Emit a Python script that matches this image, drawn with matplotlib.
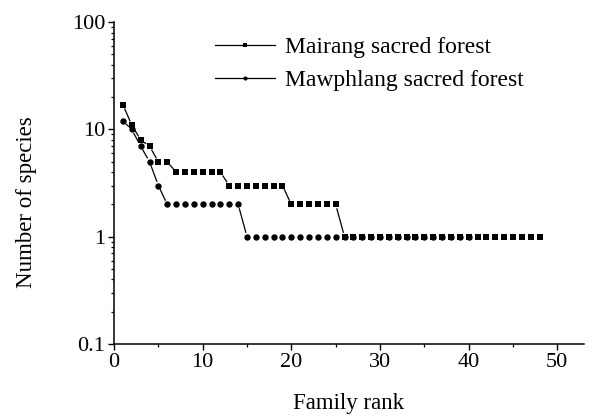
import matplotlib
matplotlib.use("Agg")
import matplotlib.pyplot as plt
import numpy as np
from matplotlib.lines import Line2D
from matplotlib.ticker import LogLocator, FixedLocator, FuncFormatter

# species per family, ordered by family rank
mairang = [17, 11, 8, 7, 5, 5] + [4] * 6 + [3] * 7 + [2] * 6 + [1] * 23
mawphlang = [12, 10, 7, 5, 3] + [2] * 9 + [1] * 26
series_names = ["Mairang sacred forest", "Mawphlang sacred forest"]

plt.rcParams["font.family"] = ["Liberation Serif", "DejaVu Serif"]

fig = plt.figure(figsize=(5.94, 4.19), dpi=100)
ax = fig.add_axes([0.192, 0.179, 0.791, 0.768])

ax.set_yscale("log")
ax.set_xlim(0, 53)
ax.set_ylim(0.1, 100)

for s in ["top", "right"]:
    ax.spines[s].set_visible(False)
for s in ["left", "bottom"]:
    ax.spines[s].set_linewidth(1.1)

ax.xaxis.set_major_locator(FixedLocator([0, 10, 20, 30, 40, 50]))
ax.xaxis.set_minor_locator(FixedLocator([5, 15, 25, 35, 45]))
ax.yaxis.set_major_locator(LogLocator(base=10, numticks=10))
ax.yaxis.set_minor_locator(LogLocator(base=10, subs=np.arange(2, 10), numticks=20))
ax.yaxis.set_major_formatter(FuncFormatter(lambda v, p: f"{v:g}"))
ax.tick_params(which="major", direction="out", length=4.5, width=1.0, labelsize=16, pad=2)
ax.tick_params(which="minor", direction="out", length=2.5, width=0.9)

ax.set_xlabel("Family rank", fontsize=16.5, labelpad=15)
ax.set_ylabel("Number of species", fontsize=16.5)
ax.yaxis.set_label_coords(-0.165, 0.44)

fig.canvas.draw()


def draw_series(values, marker, ms):
    x = np.arange(1, len(values) + 1)
    y = np.array(values, dtype=float)
    pts = ax.transData.transform(np.column_stack([x, y]))
    inv = ax.transData.inverted()
    gap = 4.6  # px gap between line and symbol
    for p0, p1 in zip(pts[:-1], pts[1:]):
        d = p1 - p0
        L = np.hypot(*d)
        if L <= 2 * gap:
            continue
        a = inv.transform(p0 + d / L * gap)
        b = inv.transform(p1 - d / L * gap)
        ax.plot([a[0], b[0]], [a[1], b[1]], color="black", lw=0.9)
    ax.plot(x, y, linestyle="none", marker=marker, ms=ms, color="black",
            markeredgewidth=0)


draw_series(mairang, "s", 4.0)
draw_series(mawphlang, "o", 4.6)

handles = [
    Line2D([], [], color="black", lw=0.9, marker="s", ms=2.5, markeredgewidth=0),
    Line2D([], [], color="black", lw=0.9, marker="o", ms=3.0, markeredgewidth=0),
]
ax.legend(handles, series_names, loc="upper left", bbox_to_anchor=(0.362, 0.913),
          bbox_transform=fig.transFigure, frameon=False, fontsize=17,
          handlelength=2.55, handletextpad=0.42, labelspacing=0.48, borderpad=0,
          borderaxespad=0)

fig.savefig("out.png", dpi=100)
